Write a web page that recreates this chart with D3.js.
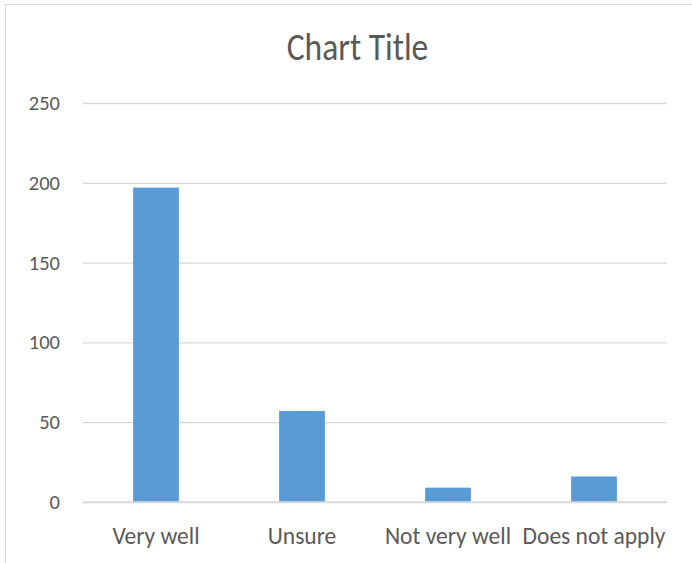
<!DOCTYPE html>
<html>
<head>
<meta charset="utf-8">
<script src="https://cdn.jsdelivr.net/npm/d3@7"></script>
<style>
  html, body { margin: 0; padding: 0; background: #fff; }
  svg text { font-family: Carlito, Lato, "Open Sans", sans-serif; fill: #595959; }
</style>
</head>
<body>
<svg id="chart" width="692" height="563"></svg>
<script>
// Survey responses
const categories = ["Very well", "Unsure", "Not very well", "Does not apply"];
const counts = [197, 57, 9, 16];
const yTicks = [0, 50, 100, 150, 200, 250];
const chartTitle = "Chart Title";

const svg = d3.select("#chart");
const W = 692, H = 563;
const margin = { top: 103, right: 25, bottom: 61, left: 83 };

// chart frame
svg.append("rect")
  .attr("x", 5.5).attr("y", 4.5)
  .attr("width", W + 10).attr("height", H - 4)
  .attr("fill", "none").attr("stroke", "#d9d9d9").attr("stroke-width", 1);

const x = d3.scaleBand()
  .domain(categories)
  .range([margin.left, W - margin.right])
  .padding(0);

const y = d3.scaleLinear()
  .domain([0, 250])
  .range([H - margin.bottom, margin.top]);

// gridlines
const grid = svg.append("g")
  .attr("transform", `translate(${margin.left},0)`)
  .call(d3.axisLeft(y).tickValues(yTicks).tickSize(-(W - margin.right - margin.left)).tickFormat(""));
grid.select(".domain").remove();
grid.selectAll("line").attr("stroke", "#d9d9d9").attr("stroke-width", 1.3);

// y axis labels
const yAxis = svg.append("g")
  .attr("transform", `translate(${margin.left},0)`)
  .call(d3.axisLeft(y).tickValues(yTicks).tickSize(0).tickPadding(23));
yAxis.select(".domain").remove();
yAxis.selectAll("text").attr("font-size", 20.5).attr("fill", "#595959");

// bars
const barW = x.bandwidth() / 3.19;
svg.append("g").selectAll("rect")
  .data(categories)
  .join("rect")
  .attr("x", (d) => x(d) + (x.bandwidth() - barW) / 2)
  .attr("y", (d, i) => y(counts[i]))
  .attr("width", barW)
  .attr("height", (d, i) => y(0) - y(counts[i]))
  .attr("fill", "#5b9bd5");

// baseline
svg.append("line")
  .attr("x1", margin.left).attr("x2", W - margin.right)
  .attr("y1", y(0)).attr("y2", y(0))
  .attr("stroke", "#d9d9d9").attr("stroke-width", 1.3);

// category labels
const xAxis = svg.append("g")
  .attr("transform", `translate(0,${H - margin.bottom})`)
  .call(d3.axisBottom(x).tickSize(0).tickPadding(0));
xAxis.select(".domain").remove();
xAxis.selectAll("text")
  .attr("dy", null)
  .attr("y", 42)
  .attr("font-size", 23.5)
  .attr("fill", "#595959");

// title, slightly tall glyphs
svg.append("text")
  .attr("transform", "translate(357.5,60) scale(1,1.14)")
  .attr("text-anchor", "middle")
  .attr("font-size", 33.5)
  .text(chartTitle);
</script>
</body>
</html>
